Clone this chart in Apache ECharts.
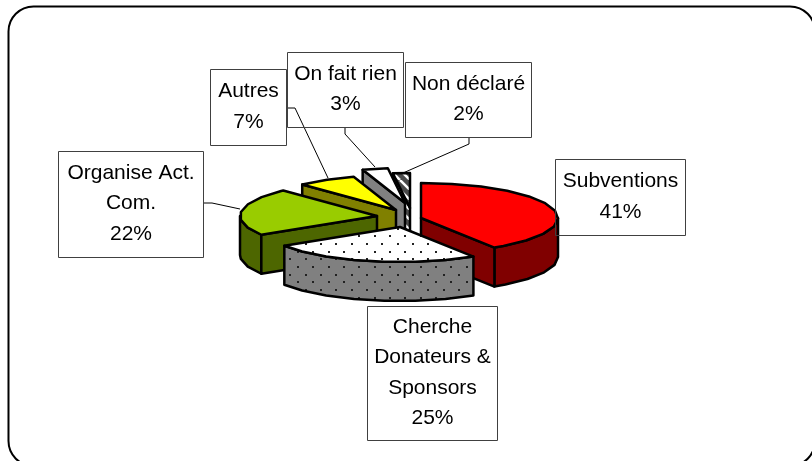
<!DOCTYPE html>
<html>
<head>
<meta charset="utf-8">
<script src="https://cdn.jsdelivr.net/npm/echarts@6/dist/echarts.min.js"></script>
<style>
  html, body { margin: 0; padding: 0; background: #fff; }
  #chart { width: 812px; height: 461px; }
</style>
</head>
<body>
<div id="chart"></div>
<script>
// data
const categories = ['Subventions', 'Cherche\nDonateurs &\nSponsors', 'Organise Act.\nCom.', 'Autres', 'On fait rien', 'Non déclaré'];
const values = [41, 25, 22, 7, 3, 2];

// layout of the fake 3D pie, every slice is pulled out of the pie by its own offset
const pieCenter = [401, 213];
const radiusX = 137;
const radiusY = 35;
const depth = 39;
const rimStep = 13; // degrees, the rim of the original is polygonal
const sliceOffsets = [[20, 5], [-1, 14], [-24, 3], [-5, -3], [4, -10], [9, -5]];
const sliceLayers = [5, 6, 4, 3, 2, 1]; // back to front

// label boxes: x, y, w, h
const labelBoxes = [
  [555.5, 159.5, 130, 76],
  [367.5, 306.5, 130, 134],
  [58.5, 151.5, 145, 106],
  [210.5, 69.5, 76, 76],
  [287.5, 52.5, 116, 75],
  [405.5, 62.5, 126, 75]
];
const leaderLines = [
  null,
  null,
  [[203, 203], [212, 203], [240, 209]],
  [[287, 108], [295, 108], [328, 178]],
  [[345, 127], [345, 134], [375, 167]],
  [[469, 137], [469, 144], [403, 173]]
];

function dotPattern(bg) {
  const tile = document.createElement('canvas');
  tile.width = tile.height = 46;
  const ctx = tile.getContext('2d');
  ctx.fillStyle = bg;
  ctx.fillRect(0, 0, 46, 46);
  ctx.fillStyle = '#222';
  for (let i = 0; i < 6; i++) {
    for (let j = 0; j < 6; j++) {
      if ((i + j) % 2) continue;
      const x = Math.round(45 + i * 46 / 6) % 46;
      const y = Math.round(14 + j * 46 / 6) % 46;
      ctx.fillRect(x - 1, y - 1, 2, 2);
    }
  }
  return { image: tile, repeat: 'repeat' };
}

function hatchPattern() {
  const tile = document.createElement('canvas');
  tile.width = tile.height = 10;
  const ctx = tile.getContext('2d');
  ctx.fillStyle = '#4a4a4a';
  ctx.fillRect(0, 0, 10, 10);
  ctx.strokeStyle = '#fff';
  ctx.lineWidth = 2.5;
  for (let k = -10; k <= 10; k += 10) {
    ctx.beginPath();
    ctx.moveTo(k, 0);
    ctx.lineTo(k + 10, 10);
    ctx.stroke();
  }
  return { image: tile, repeat: 'repeat' };
}

const hatch = hatchPattern();
const topFills = ['#ff0000', dotPattern('#ffffff'), '#99cc00', '#ffff00', '#ffffff', hatch];
const sideFills = ['#800000', dotPattern('#808080'), '#4d6600', '#808000', '#808080', hatch];

const total = values.reduce((a, b) => a + b, 0);

function rimPoint(c, deg) {
  const t = deg * Math.PI / 180;
  return [c[0] + radiusX * Math.sin(t), c[1] - radiusY * Math.cos(t)];
}

function rimArc(c, from, to) {
  const pts = [];
  for (let d = from; d < to; d += rimStep) pts.push(rimPoint(c, d));
  pts.push(rimPoint(c, to));
  return pts;
}

const down = (p) => [p[0], p[1] + depth];

function renderSlice(params, api) {
  const i = params.dataIndex;
  const share = 360 / total;
  let before = 0;
  for (let k = 0; k < i; k++) before += values[k];
  const start = before * share;
  const end = start + api.value(0) * share;
  const c = [pieCenter[0] + sliceOffsets[i][0], pieCenter[1] + sliceOffsets[i][1]];
  const line = { stroke: '#000', lineWidth: 2.5, lineJoin: 'round' };
  const z2 = sliceLayers[i];
  const children = [];
  const face = (points, fill) => children.push({
    type: 'polygon',
    z2: z2,
    shape: { points: points },
    style: Object.assign({ fill: fill }, line)
  });

  // outer wall, only the part of the rim that faces the viewer
  const from = Math.max(start, 90);
  const to = Math.min(end, 270);
  if (from < to) {
    const rim = rimArc(c, from, to);
    face(rim.concat(rim.slice().reverse().map(down)), sideFills[i]);
  }
  // cut faces along the radial edges
  [[start, -1], [end, 1]].forEach(([deg, side]) => {
    if (Math.sin(deg * Math.PI / 180) * side > 0.001) {
      const p = rimPoint(c, deg);
      face([c, p, down(p), down(c)], sideFills[i]);
    }
  });
  // top face
  face([c].concat(rimArc(c, start, end)), topFills[i]);

  return { type: 'group', children: children };
}

const labelElements = [];
categories.forEach((name, i) => {
  const box = labelBoxes[i];
  labelElements.push({
    type: 'rect',
    z: 10,
    shape: { x: box[0], y: box[1], width: box[2], height: box[3] },
    style: { fill: 'transparent', stroke: '#404040', lineWidth: 1 }
  });
  labelElements.push({
    type: 'text',
    z: 11,
    style: {
      x: box[0] + box[2] / 2,
      y: box[1] + box[3] / 2 - 1,
      text: name + '\n' + values[i] + '%',
      font: '21px "Liberation Sans", Arial, sans-serif',
      lineHeight: 30.5,
      align: 'center',
      verticalAlign: 'middle',
      fill: '#000'
    }
  });
  if (leaderLines[i]) {
    labelElements.push({
      type: 'polyline',
      z: 9,
      shape: { points: leaderLines[i] },
      style: { fill: 'none', stroke: '#000', lineWidth: 1 }
    });
  }
});

const chart = echarts.init(document.getElementById('chart'));
const option = {
  animation: false,
  backgroundColor: '#fff',
  graphic: {
    elements: [
      {
        type: 'rect',
        z: 0,
        shape: { x: 8.5, y: 6.5, width: 806.5, height: 459.5, r: 25 },
        style: { fill: '#fff', stroke: '#000', lineWidth: 2 }
      }
    ].concat(labelElements)
  },
  series: [
    {
      type: 'custom',
      coordinateSystem: 'none',
      z: 5,
      renderItem: renderSlice,
      data: values.map((v, i) => ({ name: categories[i], value: [v] }))
    }
  ]
};
chart.setOption(option);
</script>
</body>
</html>
